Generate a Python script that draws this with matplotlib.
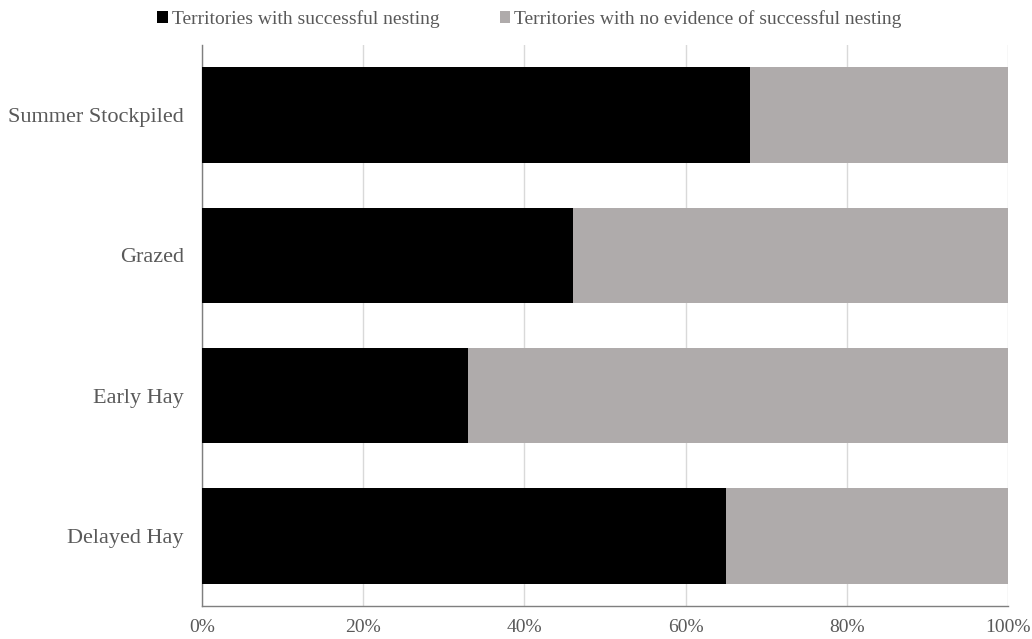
import matplotlib.pyplot as plt
from matplotlib.ticker import PercentFormatter

plt.rcParams['font.family'] = ['Liberation Serif', 'DejaVu Serif']

categories = ["Delayed Hay", "Early Hay", "Grazed", "Summer Stockpiled"]
successful = [65, 33, 46, 68]
no_evidence = [100 - v for v in successful]

txt = "#595959"

fig = plt.figure(figsize=(10.32, 6.39), dpi=100)
ax = fig.add_axes([0.1957, 0.0516, 0.7810, 0.878])

ax.barh(categories, successful, height=0.68, color="black",
        label="Territories with successful nesting", zorder=3)
ax.barh(categories, no_evidence, left=successful, height=0.68, color="#AFABAB",
        label="Territories with no evidence of successful nesting", zorder=3)

ax.set_xlim(0, 100)
ax.set_ylim(-0.5, 3.5)
ax.set_xticks([0, 20, 40, 60, 80, 100])
ax.xaxis.set_major_formatter(PercentFormatter(decimals=0))
ax.grid(axis="x", color="#D9D9D9", linewidth=1, zorder=0)
ax.tick_params(axis="x", length=0, labelsize=14, labelcolor=txt, pad=9)
ax.tick_params(axis="y", length=0, labelsize=16, labelcolor=txt, pad=13)
for s in ["top", "right"]:
    ax.spines[s].set_visible(False)
for s in ["left", "bottom"]:
    ax.spines[s].set_color("#7F7F7F")
    ax.spines[s].set_linewidth(1)

fig.legend(loc="upper center", bbox_to_anchor=(0.513, 1.012), ncol=2, frameon=False,
           fontsize=14, labelcolor=txt, handlelength=0.55, handleheight=0.55,
           handletextpad=0.2, columnspacing=3.1)

fig.savefig("out.png", dpi=100)
